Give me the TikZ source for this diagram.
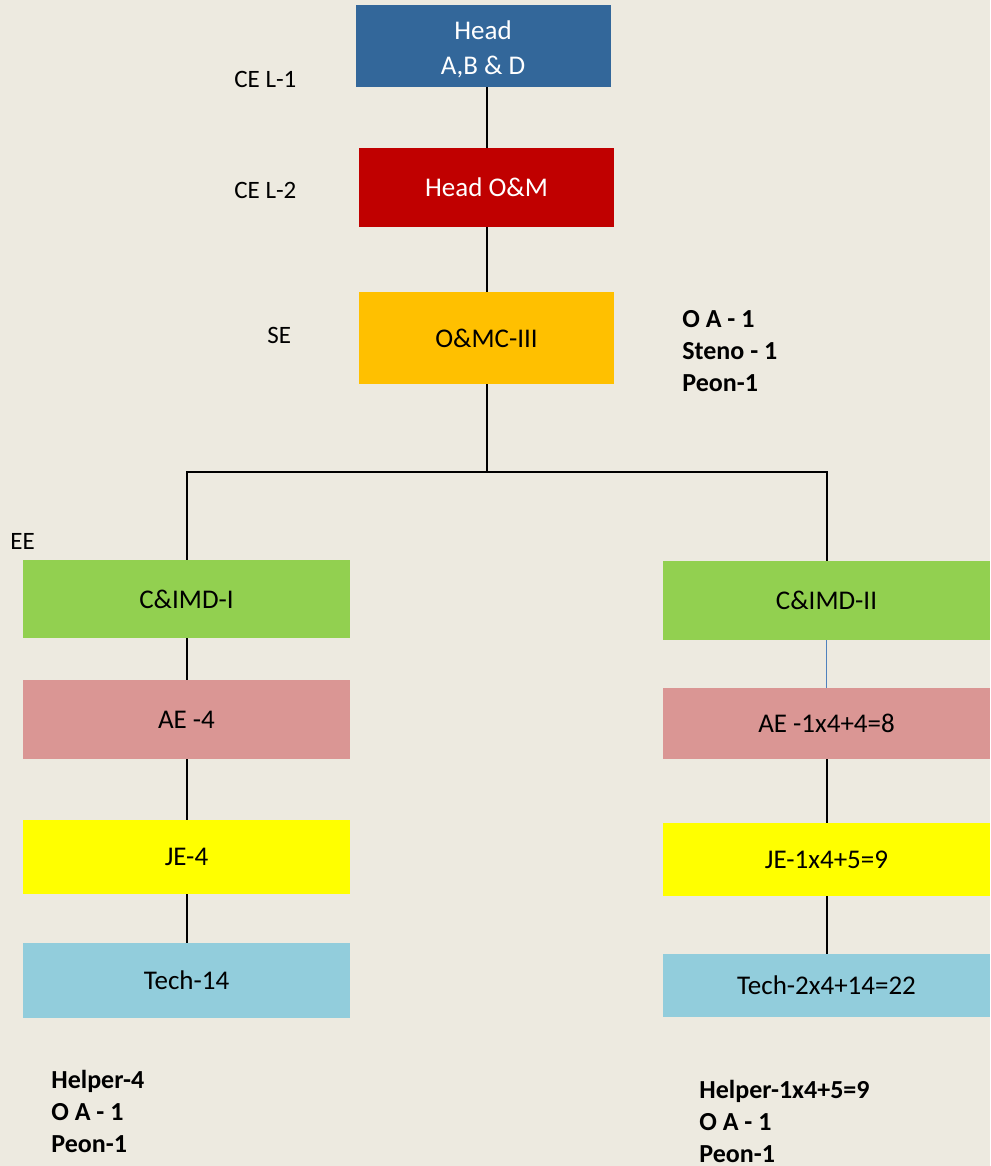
\documentclass[tikz,border=0pt]{standalone}
\usepackage{fontspec}
\setmainfont{Carlito}
\definecolor{bg}{RGB}{237,234,224}
\definecolor{headblue}{RGB}{51,103,154}
\definecolor{headred}{RGB}{192,0,0}
\definecolor{circleorange}{RGB}{255,192,0}
\definecolor{divgreen}{RGB}{146,208,80}
\definecolor{aepink}{RGB}{218,150,148}
\definecolor{jeyellow}{RGB}{255,255,0}
\definecolor{techblue}{RGB}{146,205,220}
\definecolor{linkblue}{RGB}{79,129,189}

\begin{document}
\begin{tikzpicture}[x=0.5pt,y=-0.5pt,
	box/.style={rectangle, inner sep=0pt, align=center, font=\fontsize{13.5}{16}\selectfont},
	topbox/.style={box, minimum width=127.5pt},
	colbox/.style={box, minimum width=163.5pt},
	rank/.style={inner sep=0pt, anchor=west, font=\fontsize{12.5}{15}\selectfont},
	staff/.style={inner sep=0pt, anchor=north west, align=left, font=\fontsize{13}{16}\bfseries\selectfont},
	link/.style={line width=1pt}]
	\fill[bg] (0,0) rectangle (990,1166);

	\node[topbox, fill=headblue, text=white, minimum height=41pt, text depth=0pt] (head) at (483,46) {Head\\\raisebox{-1.5pt}{A,B \& D}};
	\node[topbox, fill=headred, text=white, minimum height=39.5pt] (headom) at (486.5,187.5) {Head O\&M};
	\node[topbox, fill=circleorange, minimum height=46pt] (omc) at (486.5,338) {O\&MC-III};

	\node[colbox, fill=divgreen, minimum height=39pt] (cimda) at (186.5,599) {C\&IMD-I};
	\node[colbox, fill=aepink, minimum height=39.5pt] (aea) at (186.5,719.5) {AE -4};
	\node[colbox, fill=jeyellow, minimum height=37pt] (jea) at (186.5,857) {JE-4};
	\node[colbox, fill=techblue, minimum height=37.5pt] (techa) at (186.5,980.5) {Tech-14};

	\node[colbox, fill=divgreen, minimum height=39.5pt] (cimdb) at (826.5,600.5) {C\&IMD-II};
	\node[colbox, fill=aepink, minimum height=35.5pt] (aeb) at (826.5,723.5) {AE -1x4+4=8};
	\node[colbox, fill=jeyellow, minimum height=36.5pt] (jeb) at (826.5,859.5) {JE-1x4+5=9};
	\node[colbox, fill=techblue, minimum height=31.5pt] (techb) at (826.5,985.5) {Tech-2x4+14=22};

	\node[rank] (cel1) at (234,79) {CE L-1};
	\node[rank] (cel2) at (234,190) {CE L-2};
	\node[rank] (se) at (267,335) {SE};
	\node[rank] (ee) at (10,541) {EE};

	\node[staff] (omcstaff) at (682,310) {O A - 1\\Steno - 1\\Peon-1};
	\node[staff] (leftstaff) at (51,1070) {Helper-4\\O A - 1\\Peon-1};
	\node[staff] (rightstaff) at (699,1080) {Helper-1x4+5=9\\O A - 1\\Peon-1};

	\draw[link] (headom.north) -- (headom.north |- head.south);
	\draw[link] (omc.north) -- (headom.south);
	\draw[link] (omc.south) -- ++(0,88) coordinate (split);
	\draw[link] (split) -| (cimda.north);
	\draw[link] (split) -| (cimdb.north);
	\draw[link] (cimda) -- (aea) (aea) -- (jea) (jea) -- (techa);
	\draw[linkblue, line width=0.75pt] (cimdb) -- (aeb);
	\draw[link] (aeb) -- (jeb) (jeb) -- (techb);
\end{tikzpicture}
\end{document}
